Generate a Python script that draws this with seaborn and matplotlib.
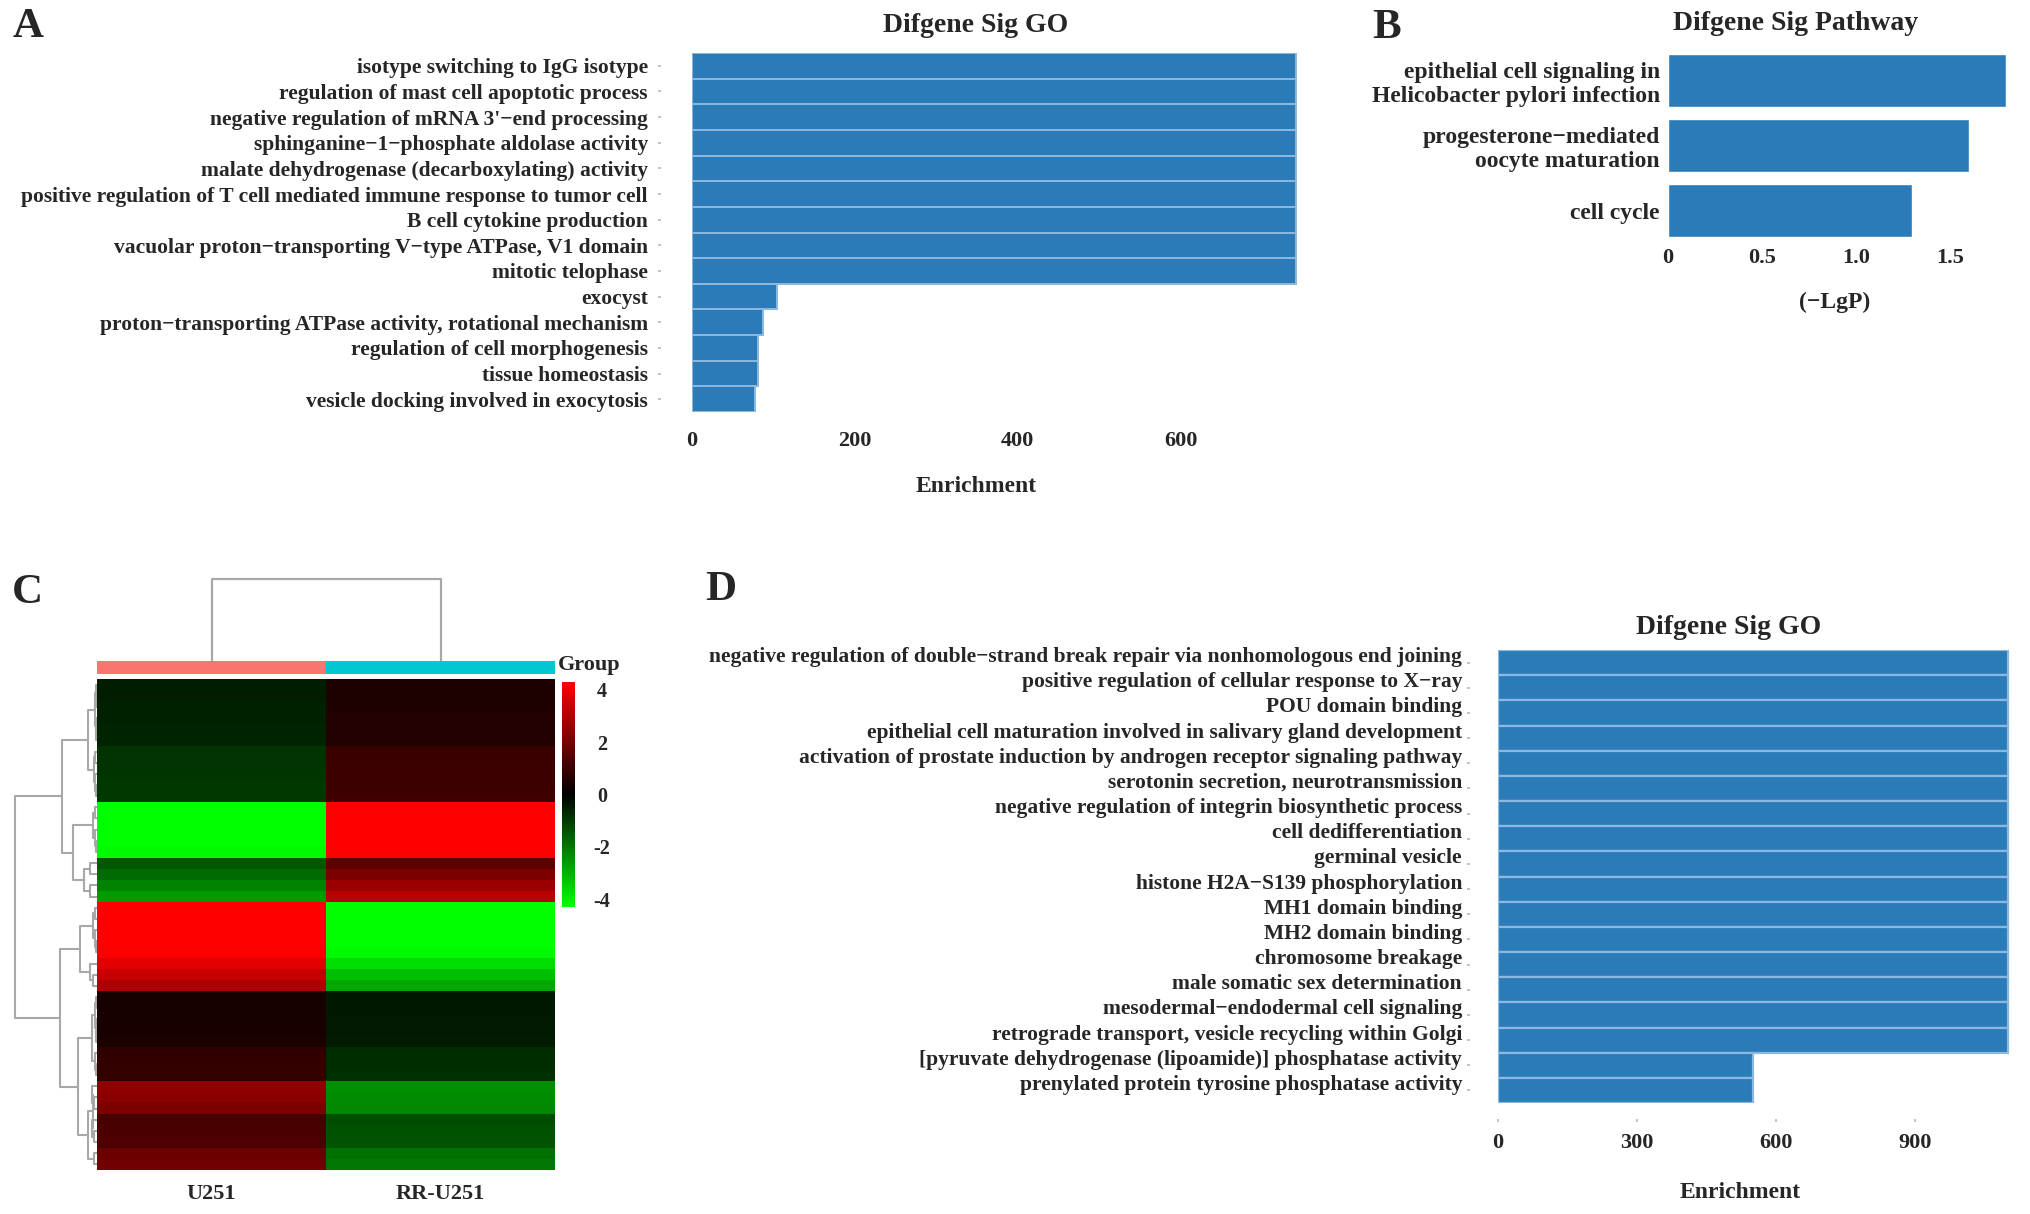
import numpy as np
import pandas as pd
import matplotlib
matplotlib.use("Agg")
import matplotlib.pyplot as plt
import matplotlib.transforms as mtransforms
import seaborn as sns
from matplotlib.colors import LinearSegmentedColormap, ListedColormap

# ---------------- data ----------------
go_a_terms = [
    "isotype switching to IgG isotype",
    "regulation of mast cell apoptotic process",
    "negative regulation of mRNA 3'\u2212end processing",
    "sphinganine\u22121\u2212phosphate aldolase activity",
    "malate dehydrogenase (decarboxylating) activity",
    "positive regulation of T cell mediated immune response to tumor cell",
    "B cell cytokine production",
    "vacuolar proton\u2212transporting V\u2212type ATPase, V1 domain",
    "mitotic telophase",
    "exocyst",
    "proton\u2212transporting ATPase activity, rotational mechanism",
    "regulation of cell morphogenesis",
    "tissue homeostasis",
    "vesicle docking involved in exocytosis",
]
go_a_enrich = [742, 742, 742, 742, 742, 742, 742, 742, 742, 104, 87, 81, 81, 77]
go_a_ticks = [0, 200, 400, 600]

path_terms = [
    "epithelial cell signaling in\nHelicobacter pylori infection",
    "progesterone\u2212mediated\noocyte maturation",
    "cell cycle",
]
path_lgp = [1.80, 1.60, 1.30]
path_ticks = [0, 0.5, 1.0, 1.5]
path_ticklabels = ["0", "0.5", "1.0", "1.5"]

go_d_terms = [
    "negative regulation of double\u2212strand break repair via nonhomologous end joining",
    "positive regulation of cellular response to X\u2212ray",
    "POU domain binding",
    "epithelial cell maturation involved in salivary gland development",
    "activation of prostate induction by androgen receptor signaling pathway",
    "serotonin secretion, neurotransmission",
    "negative regulation of integrin biosynthetic process",
    "cell dedifferentiation",
    "germinal vesicle",
    "histone H2A\u2212S139 phosphorylation",
    "MH1 domain binding",
    "MH2 domain binding",
    "chromosome breakage",
    "male somatic sex determination",
    "mesodermal\u2212endodermal cell signaling",
    "retrograde transport, vesicle recycling within Golgi",
    "[pyruvate dehydrogenase (lipoamide)] phosphatase activity",
    "prenylated protein tyrosine phosphatase activity",
]
go_d_enrich = [1100, 1100, 1100, 1100, 1100, 1100, 1100, 1100, 1100,
               1100, 1100, 1100, 1100, 1100, 1100, 1100, 550, 550]
go_d_ticks = [0, 300, 600, 900]

heat_samples = ["U251", "RR-U251"]
heat_u251 = [-0.50, -0.50, -0.55, -0.55, -0.60, -0.60,
             -0.85, -0.85, -0.90, -0.95, -0.95,
             -4.40, -4.40, -4.30, -4.30, -4.20,
             -1.50, -1.80, -2.20, -2.60,
             4.40, 4.40, 4.30, 4.30, 4.20,
             3.80, 3.30, 2.90,
             0.40, 0.40, 0.42, 0.42, 0.45,
             0.80, 0.84, 0.86,
             2.40, 2.30, 2.10,
             1.20, 1.25, 1.30,
             1.80, 1.90]
heat_rr = [0.50, 0.50, 0.52, 0.55, 0.55, 0.58,
           0.95, 1.00, 1.00, 1.02, 1.05,
           4.40, 4.40, 4.30, 4.30, 4.20,
           1.60, 2.10, 2.60, 3.10,
           -4.40, -4.40, -4.30, -4.30, -4.20,
           -3.70, -3.20, -2.80,
           -0.40, -0.40, -0.42, -0.42, -0.45,
           -0.74, -0.76, -0.78,
           -2.40, -2.35, -2.30,
           -1.30, -1.35, -1.40,
           -1.90, -2.00]
cbar_ticks = [-4, -2, 0, 2, 4]
cbar_ticklabels = ["-4", "-2", "0", "2", "4"]

# row-cluster tree: bands of rows (start, stop) and merge heights (root = 1)
band_rows = {"A": (0, 6), "B": (6, 11), "C": (11, 16), "D": (16, 20),
             "E": (20, 25), "F": (25, 28), "G": (28, 33), "H": (33, 36),
             "I": (36, 39), "J": (39, 42), "K": (42, 44)}
band_inner_h = {"A": 0.03, "B": 0.04, "C": 0.05, "D": 0.16, "E": 0.05,
                "F": 0.09, "G": 0.03, "H": 0.03, "I": 0.06, "J": 0.06, "K": 0.04}
row_tree = ((("A", "B", 0.11), ("C", "D", 0.29), 0.43),
            (("E", "F", 0.21), (("G", "H", 0.06), (("I", "J", 0.05), "K", 0.11), 0.23), 0.45),
            1.0)
col_merge_height = 1.0

group_names = ["U251", "RR-U251"]
group_colors = ["#F8766D", "#00C8D0"]

# ---------------- style ----------------
sns.set_theme(style="white")
plt.rcParams["font.family"] = ["Liberation Serif", "DejaVu Serif"]
plt.rcParams["font.weight"] = "bold"
plt.rcParams["axes.labelweight"] = "bold"
plt.rcParams["axes.titleweight"] = "bold"

BLUE = "#2b7bb9"
EDGE = "#8bb8de"
TICKC = "#c4c4c4"
DENDC = "#a8a8a8"

W, H = 2031, 1214
fig = plt.figure(figsize=(W / 100, H / 100), dpi=100)
PT = 72 / 100  # points per pixel


def ax_px(left, top, right, bottom):
    return fig.add_axes([left / W, 1 - bottom / H, (right - left) / W, (bottom - top) / H])


def ftext(x, y, s, size, **kw):
    fig.text(x / W, 1 - y / H, s, fontsize=size, fontweight="bold",
             ha=kw.pop("ha", "center"), va=kw.pop("va", "center"), **kw)


# ---------------- panel A ----------------
axA = ax_px(692, 53, 1303, 412)
sns.barplot(x=go_a_enrich, y=go_a_terms, orient="y", ax=axA, color=BLUE,
            saturation=1, width=1.0, edgecolor=EDGE, linewidth=1.4)
axA.set_xlim(0, 750)
axA.set_xticks(go_a_ticks)
axA.set_xticklabels([str(t) for t in go_a_ticks])
for s in axA.spines.values():
    s.set_visible(False)
axA.spines["left"].set_position(("outward", 31 * PT))
axA.tick_params(axis="y", left=True, length=3 * PT, width=2 * PT, color=TICKC,
                pad=10 * PT, labelsize=15.5)
axA.tick_params(axis="x", bottom=True, length=0, pad=19 * PT, labelsize=16)
axA.set_xlabel("")
axA.set_ylabel("")
ftext(976, 25, "Difgene Sig GO", 20)
ftext(976, 486, "Enrichment", 17)
ftext(28, 27, "A", 31)

# ---------------- panel B ----------------
axB = ax_px(1668, 48, 2025, 243)
sns.barplot(x=path_lgp, y=path_terms, orient="y", ax=axB, color=BLUE,
            saturation=1, width=0.82)
axB.set_xlim(0, 1.9)
axB.set_xticks(path_ticks)
axB.set_xticklabels(path_ticklabels)
for s in axB.spines.values():
    s.set_visible(False)
axB.tick_params(axis="y", length=0, pad=8 * PT, labelsize=17)
axB.tick_params(axis="x", length=0, pad=5 * PT, labelsize=16)
axB.set_xlabel("")
axB.set_ylabel("")
ftext(1796, 23, "Difgene Sig Pathway", 20)
ftext(1835, 302, "(\u2212LgP)", 17)
ftext(1387, 28, "B", 31)

# ---------------- panel D ----------------
axD = ax_px(1498, 650, 2017, 1103)
sns.barplot(x=go_d_enrich, y=go_d_terms, orient="y", ax=axD, color=BLUE,
            saturation=1, width=1.0, edgecolor=EDGE, linewidth=1.6)
axD.set_xlim(0, 1120)
axD.set_xticks(go_d_ticks)
axD.set_xticklabels([str(t) for t in go_d_ticks])
for s in axD.spines.values():
    s.set_visible(False)
axD.spines["left"].set_position(("outward", 28 * PT))
axD.spines["bottom"].set_position(("outward", 16 * PT))
axD.tick_params(axis="y", left=True, length=3 * PT, width=2 * PT, color=TICKC,
                pad=5 * PT, labelsize=15.5)
axD.tick_params(axis="x", bottom=True, length=3 * PT, width=2 * PT, color=TICKC,
                pad=11 * PT, labelsize=16)
shift_up = mtransforms.ScaledTranslation(0, 8 / 100, fig.dpi_scale_trans)
for lab in axD.get_yticklabels():
    lab.set_transform(lab.get_transform() + shift_up)
axD.set_xlabel("")
axD.set_ylabel("")
ftext(1729, 628, "Difgene Sig GO", 20)
ftext(1740, 1192, "Enrichment", 17)
ftext(721, 590, "D", 31)

# ---------------- panel C ----------------
heat_df = pd.DataFrame({heat_samples[0]: heat_u251, heat_samples[1]: heat_rr})
cmap = LinearSegmentedColormap.from_list("gkr", ["#00FF00", "#000000", "#FF0000"])

axH = ax_px(97, 679, 555, 1170)
axCB = ax_px(562, 682, 575, 907)
sns.heatmap(heat_df, ax=axH, cmap=cmap, vmin=-4.3, vmax=4.3, cbar_ax=axCB,
            xticklabels=heat_samples, yticklabels=False, linewidths=0)
axH.tick_params(axis="x", length=0, pad=14 * PT, labelsize=16)
for lab in axH.get_xticklabels():
    lab.set_rotation(0)
    lab.set_fontweight("bold")
axCB.set_yticks(cbar_ticks)
axCB.set_yticklabels(cbar_ticklabels)
axCB.tick_params(axis="y", length=0, pad=27 * PT, labelsize=14.5)
for lab in axCB.get_yticklabels():
    lab.set_ha("center")
    lab.set_fontweight("bold")
for s in axCB.spines.values():
    s.set_visible(False)
try:
    axCB.collections[0].colorbar.outline.set_visible(False)
except Exception:
    pass

# group annotation bar
axG = ax_px(97, 661, 555, 674)
sns.heatmap(pd.DataFrame([[0, 1]], columns=group_names), ax=axG,
            cmap=ListedColormap(group_colors), cbar=False,
            xticklabels=False, yticklabels=False, linewidths=0)
ftext(558, 665, "Group", 16, ha="left")

# column dendrogram
axCD = ax_px(97, 575, 555, 661)
col_x = [i + 0.5 for i in range(len(heat_samples))]
axCD.plot([col_x[0], col_x[0], col_x[1], col_x[1]],
          [0, col_merge_height, col_merge_height, 0], color=DENDC, lw=2 * PT * 1.1,
          solid_capstyle="butt")
axCD.set_xlim(0, len(heat_samples))
axCD.set_ylim(0, 1.05)
axCD.axis("off")

# row dendrogram
axRD = ax_px(12, 679, 97, 1170)


def band_subtree(rows, h):
    if len(rows) == 1:
        return rows[0]
    mid = len(rows) // 2
    return (band_subtree(rows[:mid], h * 0.55), band_subtree(rows[mid:], h * 0.55), h)


def draw_node(node):
    if isinstance(node, str):
        a, b = band_rows[node]
        node = band_subtree(list(range(a, b)), band_inner_h[node])
    if isinstance(node, int):
        return node + 0.5, 0.0
    left, right, h = node
    y1, h1 = draw_node(left)
    y2, h2 = draw_node(right)
    axRD.plot([h1, h, h, h2], [y1, y1, y2, y2], color=DENDC, lw=1.5,
              solid_capstyle="butt")
    return (y1 + y2) / 2, h


draw_node(row_tree)
axRD.set_xlim(1.04, 0)
axRD.set_ylim(len(heat_u251), 0)
axRD.axis("off")

ftext(27, 593, "C", 31)

fig.savefig("out.png", dpi=100)
